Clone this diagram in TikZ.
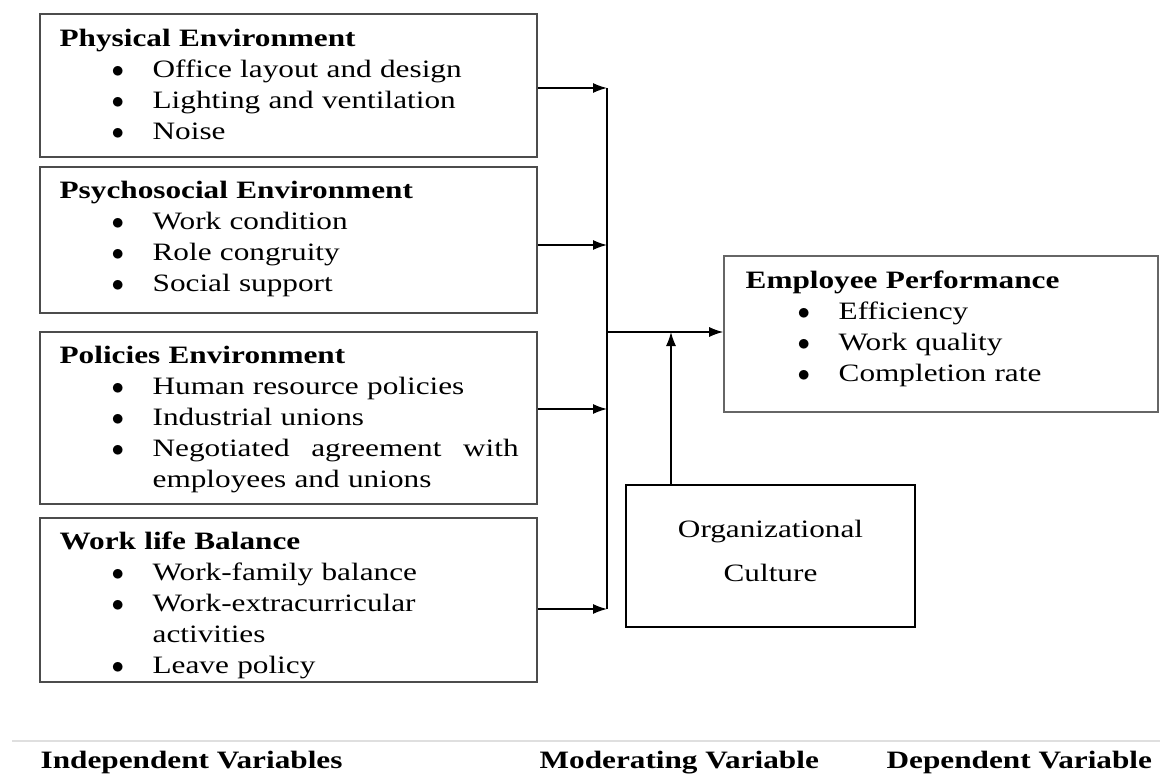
\documentclass[tikz,border=0pt]{standalone}
\usepackage{fontspec}
\setmainfont[FakeStretch=1.25]{Liberation Serif}
\usepackage{tikz}
\usetikzlibrary{arrows.meta}
\newcommand{\bul}[1]{\hspace*{52pt}\makebox[41pt][l]{$\bullet$}#1}
\newcommand{\cont}[1]{\hspace*{93pt}#1}

\begin{document}
\begin{tikzpicture}[x=1pt,y=-1pt,>={Latex[length=14pt,width=10pt]},line width=1.3pt]
\tikzstyle{ivbox}=[rectangle,draw=black!70,line width=1.6pt,minimum width=497pt]
\tikzstyle{txt}=[anchor=base west,inner sep=0pt,align=left,text width=470pt,font=\fontsize{25}{31}\selectfont]
\tikzstyle{lbl}=[anchor=base west,inner sep=0pt,font=\fontsize{25}{31}\selectfont\bfseries]
\useasboundingbox (0,0) rectangle (1160,776);
% independent variables
\node[ivbox,minimum height=143pt] (phys) at (288.5,85.5) {};
\node[ivbox,minimum height=146pt] (psych) at (288.5,240) {};
\node[ivbox,minimum height=172pt] (policy) at (288.5,418) {};
\node[ivbox,minimum height=164pt] (wlb) at (288.5,600) {};
\node[txt] (physT) at (59,47) {\textbf{Physical Environment}\\
  \bul{Office layout and design}\\ \bul{Lighting and ventilation}\\ \bul{Noise}};
\node[txt] (psychT) at (59,198) {\textbf{Psychosocial Environment}\\
  \bul{Work condition}\\ \bul{Role congruity}\\ \bul{Social support}};
\node[txt] (policyT) at (59,363) {\textbf{Policies Environment}\\
  \bul{Human resource policies}\\ \bul{Industrial unions}\\
  \bul{\makebox[366pt][l]{Negotiated\hfill agreement\hfill with}}\\ \cont{employees and unions}};
\node[txt] (wlbT) at (59,549) {\textbf{Work life Balance}\\
  \bul{Work-family balance}\\ \bul{Work-extracurricular}\\ \cont{activities}\\ \bul{Leave policy}};
% dependent and moderating
\node[rectangle,draw=black!60,line width=1.6pt,minimum width=434pt,minimum height=156pt] (perf) at (941,334) {};
\node[txt,text width=400pt] (perfT) at (745,288) {\textbf{Employee Performance}\\
  \bul{Efficiency}\\ \bul{Work quality}\\ \bul{Completion rate}};
\node[rectangle,draw=black,line width=2pt,minimum width=289pt,minimum height=142pt] (culture) at (770.5,556) {};
\node[anchor=base,inner sep=0pt,align=center,text width=280pt,font=\fontsize{25}{44}\selectfont] (cultureT) at (770.5,537) {Organizational\\ Culture};
% connectors
\coordinate (j1) at (607,88);
\coordinate (j2) at (607,245);
\coordinate (j3) at (607,409);
\coordinate (j4) at (607,609);
\coordinate (m) at (607,332);
\coordinate (mc) at (671,332);
\draw[->] (phys.east |- j1) -- (j1);
\draw[->] (psych.east |- j2) -- (j2);
\draw[->] (policy.east |- j3) -- (j3);
\draw[->] (wlb.east |- j4) -- (j4);
\draw (j1) -- (j4);
\draw[->] (m) -- (perf.west |- m);
\draw[->] (culture.north -| mc) -- (mc);
% captions
\coordinate (s1) at (12,741);
\coordinate (s2) at (1160,741);
\draw[gray!25,line width=1.5pt] (s1) -- (s2);
\node[lbl] (indep) at (40,768) {Independent Variables};
\node[lbl] (moder) at (539,768) {Moderating Variable};
\node[lbl] (dep) at (886,768) {Dependent Variable};
\end{tikzpicture}
\end{document}
